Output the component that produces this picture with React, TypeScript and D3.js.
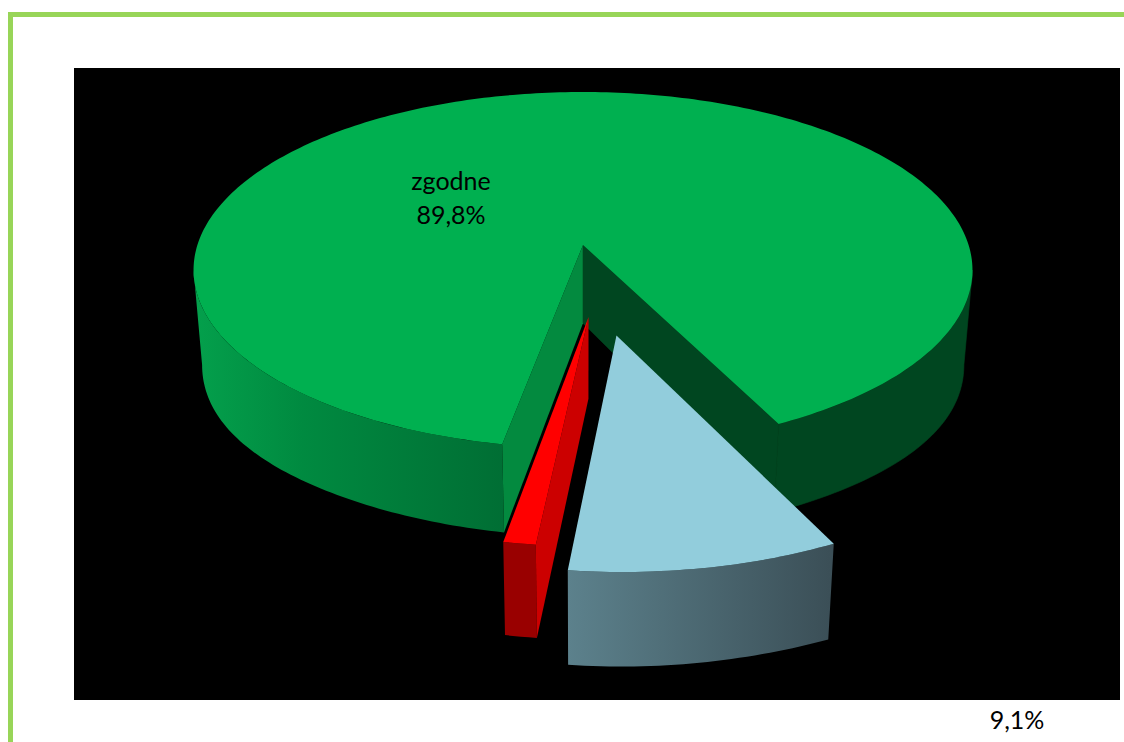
import React from "react";
import * as d3 from "d3";

const categories = ["zgodne", "niezgodne-b", "niezgodne-r"];
const values = [89.8, 9.1, 1.1];
const topColors = ["#00b050", "#92cddc", "#ff0000"];
const labelLines = ["zgodne", "89,8%"];
const outsideLabel = "9,1%";

const W = 1124;
const H = 742;
const deg = Math.PI / 180;
const explodeDir = [0, 170.5 * deg, 178 * deg];
const explodeDist = [0, 0.49, 0.39];

// perspective projection of the unit disc
const cx = 583, cy = 245, A = 385.6, B = 174.5, P = 0.1405;
const projTop = (u: number, v: number): [number, number] => {
  const w = 1 + P * v;
  return [cx + (A * u) / w, cy - (B * v) / w];
};
const toBottom = ([x, y]: [number, number]): [number, number] => {
  const n = (x - cx) / 390;
  return [cx + (x - cx) * 0.978, y + 66 + 0.05 * y + 15.5 * n * n * n * n];
};
// silhouette angles of the disc under the projection: cos(a) = -P
const leftExtreme = 2 * Math.PI - Math.acos(-P);
const rightExtreme = Math.acos(-P) + 2 * Math.PI;

const line = d3.line<[number, number]>();
const pieGen = d3
  .pie<number>()
  .sort(null)
  .startAngle(190.4 * deg)
  .endAngle((190.4 + 360) * deg);
const arcs = pieGen(values);

function offsetOf(i: number): [number, number] {
  return [Math.sin(explodeDir[i]) * explodeDist[i], Math.cos(explodeDir[i]) * explodeDist[i]];
}
function pt(i: number, a: number): [number, number] {
  const [ou, ov] = offsetOf(i);
  return projTop(ou + Math.sin(a), ov + Math.cos(a));
}
function apex(i: number): [number, number] {
  const [ou, ov] = offsetOf(i);
  return projTop(ou, ov);
}
function arcPts(i: number, a0: number, a1: number): [number, number][] {
  const n = Math.max(2, Math.ceil(Math.abs(a1 - a0) / (1 * deg)));
  return d3.range(n + 1).map((k) => pt(i, a0 + ((a1 - a0) * k) / n));
}
function sidePath(i: number, a0: number, a1: number): string {
  const t = arcPts(i, a0, a1);
  return line([...t, ...t.slice().reverse().map(toBottom)])! + "Z";
}
function topPath(i: number): string {
  return line([apex(i), ...arcPts(i, arcs[i].startAngle, arcs[i].endAngle)])! + "Z";
}
function wallPath(i: number, a: number): string {
  const p = apex(i);
  const e = pt(i, a);
  return line([p, e, toBottom(e), toBottom(p)])! + "Z";
}

const green = arcs[0], blue = arcs[1], red = arcs[2];
const darkGreen = "#004620";

export default function App() {
  return (
    <svg width={W} height={H} style={{ position: "absolute", left: 0, top: 0 }} data-series={categories.join(",")}>
      <defs>
        <linearGradient id="gSide" gradientUnits="userSpaceOnUse" x1={193} x2={505} y1={0} y2={0}>
          <stop offset="0" stopColor="#04a04c" />
          <stop offset="0.35" stopColor="#008a40" />
          <stop offset="1" stopColor="#006e34" />
        </linearGradient>
        <linearGradient id="bSide" gradientUnits="userSpaceOnUse" x1={568} x2={830} y1={0} y2={0}>
          <stop offset="0" stopColor="#5c818c" />
          <stop offset="1" stopColor="#3b4f57" />
        </linearGradient>
      </defs>
      <rect width={W} height={H} fill="#fff" />
      <rect x={8} y={12} width={W - 8} height={5} fill="#98d558" />
      <rect x={8} y={12} width={5} height={H - 12} fill="#98d558" />
      <rect x={74} y={68} width={1046} height={632} fill="#000" />

      {/* green slice */}
      <path d={sidePath(0, green.startAngle, leftExtreme)} fill="url(#gSide)" />
      <path d={sidePath(0, rightExtreme, green.endAngle)} fill={darkGreen} stroke={darkGreen} strokeWidth={0.6} />
      <path d={wallPath(0, green.startAngle)} fill="#038a3f" />
      <path d={wallPath(0, green.endAngle)} fill={darkGreen} stroke={darkGreen} strokeWidth={0.6} />
      <path d={topPath(0)} fill={topColors[0]} />

      {/* red slice */}
      <path d={sidePath(2, red.startAngle, red.endAngle)} fill="#990000" />
      <path d={wallPath(2, red.startAngle)} fill="#cc0000" />
      <path d={topPath(2)} fill={topColors[2]} />

      {/* blue slice */}
      <path d={sidePath(1, blue.startAngle, blue.endAngle)} fill="url(#bSide)" />
      <path d={topPath(1)} fill={topColors[1]} />

      <g fontFamily="Lato, Carlito, sans-serif" fontSize={25} fill="#000" textAnchor="middle">
        {labelLines.map((t, i) => (
          <text key={t} x={451} y={190 + i * 34}>{t}</text>
        ))}
        <text x={1017} y={729}>{outsideLabel}</text>
      </g>
    </svg>
  );
}
